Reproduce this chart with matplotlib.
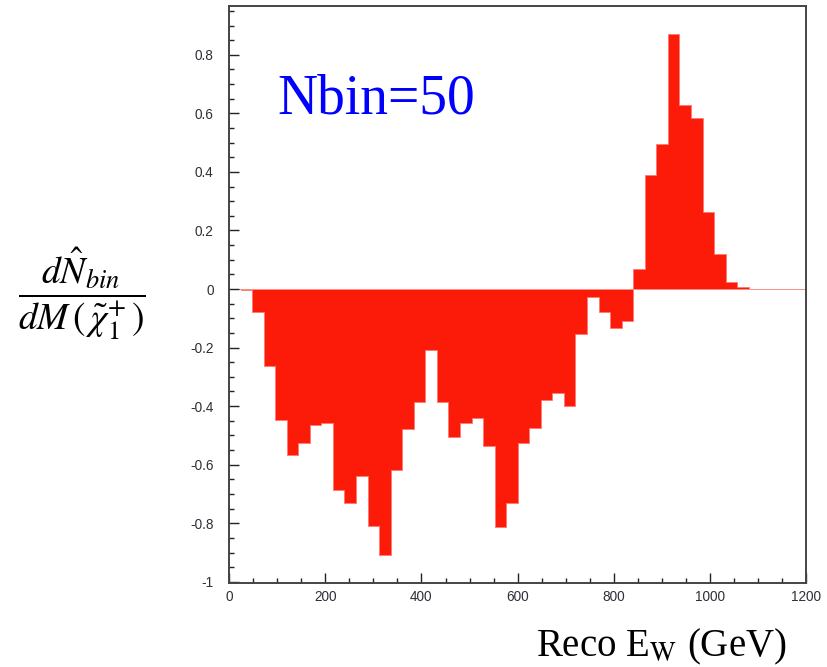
import numpy as np
import matplotlib as mpl
import matplotlib.pyplot as plt
from matplotlib.ticker import MultipleLocator

mpl.rcParams['mathtext.fontset'] = 'stix'

# histogram: 50 bins between 0 and 1200 GeV
bin_edges = np.linspace(0, 1200, 51)
bin_values = [0.0, -0.004, -0.079, -0.264, -0.449, -0.567, -0.525, -0.466, -0.457, -0.688,
              -0.730, -0.638, -0.811, -0.909, -0.619, -0.478, -0.387, -0.209, -0.387, -0.505,
              -0.459, -0.442, -0.537, -0.814, -0.730, -0.525, -0.473, -0.380, -0.356, -0.401,
              -0.154, -0.027, -0.079, -0.134, -0.110, 0.069, 0.388, 0.496, 0.872, 0.629,
              0.583, 0.264, 0.120, 0.025, 0.006, 0.001, 0.001, 0.001, 0.001, 0.001]

xticks = [0, 200, 400, 600, 800, 1000, 1200]
yticks = [-1, -0.8, -0.6, -0.4, -0.2, 0, 0.2, 0.4, 0.6, 0.8]
ytick_labels = ['-1', '-0.8', '-0.6', '-0.4', '-0.2', '0', '0.2', '0.4', '0.6', '0.8']

red = '#fc1a08'
tickcol = '#2e2e36'

fig = plt.figure(figsize=(8.27, 6.67), dpi=100)
ax = fig.add_axes([0.2769, 0.1264, 0.6983, 0.8639])

ax.stairs(bin_values, bin_edges, baseline=0, fill=True, facecolor=red,
          edgecolor='#ff7a70', linewidth=0.6)

ax.set_xlim(0, 1200)
ax.set_ylim(-1.003, 0.965)

ax.set_xticks(xticks)
ax.set_xticklabels([str(v) for v in xticks])
ax.set_yticks(yticks)
ax.set_yticklabels(ytick_labels)
ax.xaxis.set_minor_locator(MultipleLocator(50))
ax.yaxis.set_minor_locator(MultipleLocator(0.05))

ax.tick_params(which='both', direction='in', color='#222222', width=1.0,
               top=False, right=False, labelcolor=tickcol)
ax.tick_params(which='major', length=7.5)
ax.tick_params(which='minor', length=3.8)
ax.tick_params(axis='y', which='major', pad=11)
ax.tick_params(axis='x', which='major', pad=5)
for lab in ax.get_xticklabels() + ax.get_yticklabels():
    lab.set_fontfamily('Liberation Sans')
    lab.set_fontsize(9.8)

for sp in ax.spines.values():
    sp.set_color('#444444')
    sp.set_linewidth(1.4)

ax.text(100, 0.598, 'Nbin=50', color='#0000ff', fontsize=40,
        family='Liberation Serif', ha='left', va='baseline')

fig.text(0.9515, 1 - 656 / 667, r'Reco E$_{\mathrm{W}}$ (GeV)', fontsize=28,
         family='Liberation Serif', ha='right', va='baseline')

fig.text(82 / 827, 1 - 294 / 667,
         r'$\dfrac{d\hat{N}_{bin}}{dM\,(\,\tilde{\chi}_1^{+}\,)}$',
         fontsize=27, ha='center', va='center')

fig.savefig('out.png', dpi=100)
